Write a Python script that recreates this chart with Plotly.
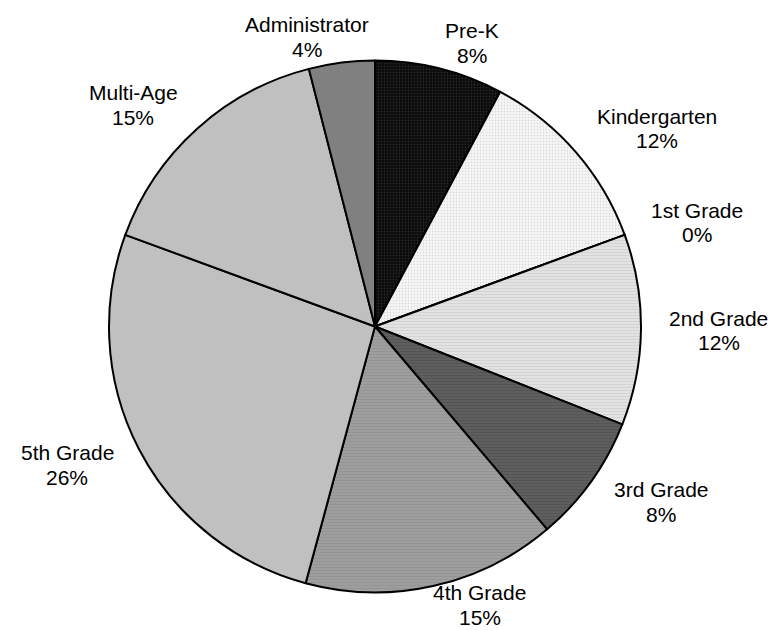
import math
import plotly.graph_objects as go

# ---- data (slice sizes, % of respondents) ----
categories = ["Pre-K", "Kindergarten", "1st Grade", "2nd Grade", "3rd Grade",
              "4th Grade", "5th Grade", "Multi-Age", "Administrator"]
shares = [7.8, 11.6, 0.0, 11.6, 7.8, 15.4, 26.4, 15.4, 4.0]

# ---- styling / geometry (screen pixels) ----
W, H = 777, 630
PAGE = 8                      # browser body margin around the figure
CX, CY = 375, 326.5           # pie centre on screen
R = 266                       # pie radius
ERX, ERY = 284, 255.5         # ellipse used for label placement
GX, GY = 10, 16               # label gaps
FS = 21
LINE = 24.5                   # label line spacing
HH = 20                       # half height of a two-line label
colors = ["#0a0a0a", "#f8f8f8", "#ffffff", "#e2e2e2", "#5e5e5e",
          "#9e9e9e", "#c0c0c0", "#c0c0c0", "#808080"]
pat_shape = [".", ".", "", "-", "-", "-", "", "", ""]
pat_fg = ["#262626", "#dcdcdc", "#ffffff", "#d2d2d2", "#525252",
          "#939393", "#c0c0c0", "#c0c0c0", "#808080"]
FONT = "Liberation Sans, Arial, sans-serif"

# approximate Arial advance widths (em)
AW = {"-": .333, " ": .278, "%": .889, "i": .222, "l": .222, "t": .278,
      "r": .333, "s": .5, "m": .833, "A": .667, "K": .667, "P": .667,
      "G": .778, "M": .833}


def text_w(s):
    return sum(AW.get(ch, .556) for ch in s) * FS


def clamp(v):
    return max(-1.0, min(1.0, v))


def to_paper(x, y):
    return (x - PAGE) / W, 1 - (y - PAGE) / H


fx0, fy1 = to_paper(CX - R, CY - R)
fx1, fy0 = to_paper(CX + R, CY + R)

fig = go.Figure(go.Pie(
    labels=categories,
    values=shares,
    sort=False,
    direction="clockwise",
    rotation=0,
    textinfo="none",
    hoverinfo="label+percent",
    marker=dict(
        colors=colors,
        line=dict(color="black", width=2),
        pattern=dict(shape=pat_shape, bgcolor=colors, fgcolor=pat_fg,
                     size=3, solidity=0.3, fillmode="replace"),
    ),
    domain=dict(x=[fx0, fx1], y=[fy0, fy1]),
    showlegend=False,
))

total = sum(shares)
cum = 0.0
annotations = []
for name, v in zip(categories, shares):
    theta = 2 * math.pi * (cum + v / 2) / total
    cum += v
    s, c = math.sin(theta), math.cos(theta)
    px = CX + (ERX + GX) * s
    py = CY - (ERY + GY) * c
    pct = f"{round(100 * v / total)}%"
    w = max(text_w(name), text_w(pct))
    lx = px + clamp(4 * s) * w / 2
    ly = py - clamp(1.5 * c) * HH
    ly = min(ly, H - 13 - LINE / 2)
    for txt, yy in ((name, ly - LINE / 2), (pct, ly + LINE / 2)):
        ax, ay = to_paper(lx, yy)
        annotations.append(dict(
            x=ax, y=ay, xref="paper", yref="paper",
            text=txt, showarrow=False, align="center",
            xanchor="center", yanchor="middle",
            font=dict(family=FONT, size=FS, color="black"),
        ))

fig.update_layout(
    width=W, height=H,
    margin=dict(l=0, r=0, t=0, b=0),
    paper_bgcolor="white", plot_bgcolor="white",
    annotations=annotations,
)

fig.write_html("out.html")
